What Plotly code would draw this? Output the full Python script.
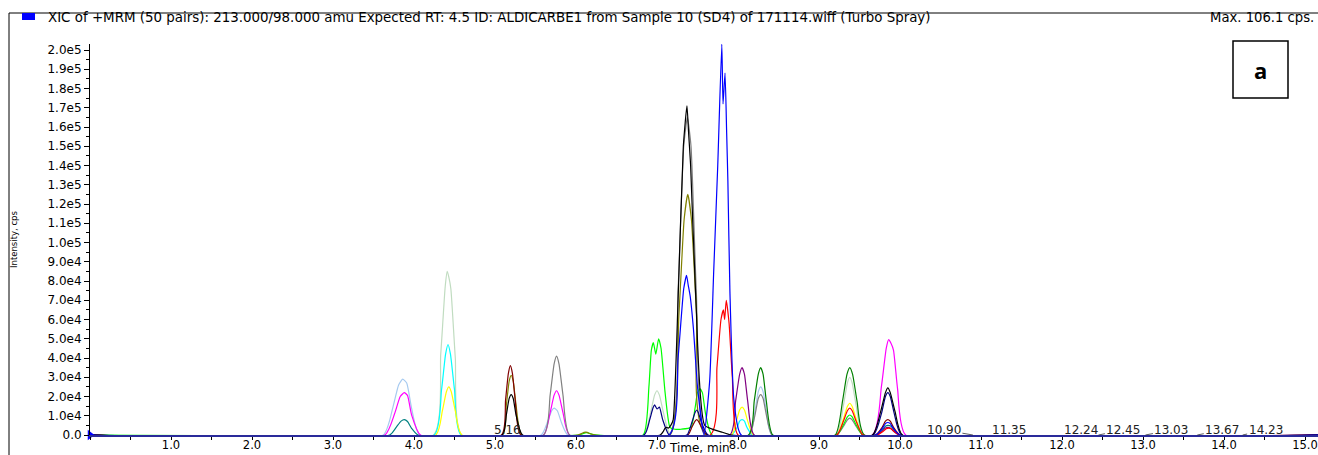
import plotly.graph_objects as go

# ---------------- data (time in min, intensity in thousands of cps) ----------------
lightblue_t = [0, 3.62, 3.74, 3.81, 3.86, 3.91, 3.97, 4.07, 5.57, 5.65, 5.70, 5.73, 5.77, 5.82, 5.90, 8.14, 8.21, 8.25, 8.28, 8.31, 8.35, 8.42, 15.2]
lightblue_y = [0, 0, 14.5, 26, 29, 27, 14, 0, 0, 7, 12.6, 14, 12.6, 6.5, 0, 0, 12.5, 22.5, 25, 22.5, 12.5, 0, 0]

magenta_t = [0, 3.64, 3.76, 3.83, 3.88, 3.92, 3.97, 4.08, 5.60, 5.68, 5.73, 5.76, 5.79, 5.84, 5.92, 9.66, 9.77, 9.83, 9.86, 9.89, 9.92, 9.97, 10.07, 15.2]
magenta_y = [0, 0, 11, 20, 22, 20.5, 10.5, 0, 0, 11.5, 20.7, 23, 20.7, 11.5, 0, 0, 25, 45, 49.5, 47.5, 44, 24, 0, 0]

teal_t = [0, 3.70, 3.78, 3.84, 3.88, 3.92, 3.97, 4.05, 9.70, 9.78, 9.82, 9.85, 9.89, 9.93, 10.0, 15.2]
teal_y = [0, 0, 4, 7.2, 8, 7, 3.5, 0, 0, 2.5, 4.5, 5, 4.5, 2.5, 0, 0]

palegreen_t = [0, 4.24, 4.33, 4.385, 4.41, 4.43, 4.455, 4.51, 4.59, 6.83, 6.92, 6.97, 7.0, 7.03, 7.08, 7.17, 9.21, 9.30, 9.35, 9.38, 9.41, 9.46, 9.55, 15.2]
palegreen_y = [0, 0, 42, 77, 85, 82, 76, 40, 0, 0, 11.5, 20.7, 23, 20.7, 11.5, 0, 0, 15, 27, 30, 27, 15, 0, 0]

cyan_t = [0, 4.25, 4.34, 4.39, 4.42, 4.45, 4.50, 4.58, 7.92, 7.99, 8.02, 8.05, 8.08, 8.11, 8.18, 15.2]
cyan_y = [0, 0, 23.5, 42, 47, 42, 23.5, 0, 0, 4, 7.2, 8, 7.2, 4, 0, 0]

yellow_t = [0, 4.27, 4.35, 4.40, 4.43, 4.46, 4.51, 4.59, 7.92, 7.98, 8.02, 8.05, 8.08, 8.12, 8.19, 9.22, 9.30, 9.35, 9.38, 9.41, 9.46, 9.54, 15.2]
yellow_y = [0, 0, 12.5, 22.5, 25, 22.5, 12.5, 0, 0, 7.2, 13, 14.5, 13, 7.2, 0, 0, 8.2, 14.8, 16.5, 14.8, 8.2, 0, 0]

maroon_t = [0, 5.08, 5.13, 5.165, 5.19, 5.215, 5.25, 5.32, 7.38, 7.43, 7.47, 7.49, 7.51, 7.55, 7.62, 9.70, 9.78, 9.82, 9.85, 9.88, 9.92, 10.0, 15.2]
maroon_y = [0, 0, 18, 32, 36, 32, 18, 0, 0, 4, 7.2, 8, 7.2, 4, 0, 0, 4, 7.2, 8, 7.2, 4, 0, 0]

olive_t = [0, 5.09, 5.14, 5.175, 5.20, 5.225, 5.26, 5.33, 6.02, 6.07, 6.10, 6.12, 6.14, 6.17, 6.24, 7.16, 7.27, 7.335, 7.38, 7.425, 7.49, 7.60, 15.2]
olive_y = [0, 0, 15.5, 28, 31, 28, 15.5, 0, 0, 0.75, 1.35, 1.5, 1.35, 0.75, 0, 0, 62, 112, 125, 112, 62, 0, 0]

black_t = [0, 5.09, 5.14, 5.175, 5.20, 5.225, 5.26, 5.34, 7.04, 7.08, 7.10, 7.12, 7.14, 7.17, 7.20, 7.26, 7.325, 7.37, 7.39, 7.415, 7.48, 7.59, 7.80, 7.92, 9.66, 9.76, 9.82, 9.85, 9.88, 9.94, 10.03, 15.2]
black_y = [0, 0, 10.5, 19, 21, 19, 10.5, 0, 0, 2, 3.6, 4, 3.6, 5, 8, 70, 150, 171, 157, 140, 70, 5, 1.5, 0, 0, 12, 22, 24.5, 22, 12, 0, 0]

gray_t = [0, 5.60, 5.68, 5.73, 5.76, 5.79, 5.84, 5.92, 7.15, 7.26, 7.33, 7.375, 7.42, 7.485, 7.60, 8.14, 8.21, 8.25, 8.28, 8.31, 8.35, 8.42, 9.22, 9.30, 9.35, 9.38, 9.41, 9.46, 9.54, 15.2]
gray_y = [0, 0, 20.5, 37, 41, 37, 20.5, 0, 0, 75, 150, 165, 150, 75, 0, 0, 10.5, 19, 21, 19, 10.5, 0, 0, 4.4, 7.9, 8.8, 7.9, 4.4, 0, 0]

green_t = [0, 6.03, 6.08, 6.11, 6.13, 6.15, 6.18, 6.26, 6.83, 6.90, 6.93, 6.955, 6.985, 7.02, 7.05, 7.10, 7.16, 7.22, 7.30, 7.42, 7.47, 7.50, 7.53, 7.56, 7.60, 7.68, 9.22, 9.30, 9.35, 9.38, 9.41, 9.46, 9.54, 15.2]
green_y = [0, 0, 0.6, 1.1, 1.2, 1.1, 0.6, 0, 0, 25, 44, 48, 42, 50, 45, 22, 4, 3, 3, 4, 14, 22, 24, 22, 11, 0, 0, 5.2, 9.4, 10.4, 9.4, 5.2, 0, 0]

navy_t = [0, 6.84, 6.91, 6.95, 6.97, 7.00, 7.03, 7.07, 7.15, 7.37, 7.43, 7.47, 7.49, 7.51, 7.55, 7.63, 9.67, 9.77, 9.82, 9.85, 9.88, 9.93, 10.02, 15.2]
navy_y = [0, 0, 8, 14, 15.6, 13.5, 14.5, 8, 0, 0, 6.5, 11.7, 13, 11.7, 6.5, 0, 0, 11, 20, 22, 20, 11, 0, 0]

red_t = [0, 7.66, 7.74, 7.79, 7.82, 7.835, 7.855, 7.89, 7.93, 8.00, 9.22, 9.30, 9.35, 9.38, 9.41, 9.46, 9.54, 9.72, 9.79, 9.83, 9.86, 9.89, 9.93, 9.99, 15.2]
red_y = [0, 0, 35, 60, 65, 60, 70, 58, 30, 0, 0, 7, 12.6, 14, 12.6, 7, 0, 0, 1.8, 3.2, 3.6, 3.2, 1.8, 0, 0]

purple_t = [0, 7.90, 7.97, 8.02, 8.05, 8.08, 8.12, 8.20, 9.71, 9.78, 9.82, 9.85, 9.88, 9.92, 9.99, 15.2]
purple_y = [0, 0, 17.5, 31.5, 35, 31.5, 17.5, 0, 0, 2, 3.6, 4, 3.6, 2, 0, 0]

darkgreen_t = [0, 8.13, 8.20, 8.25, 8.28, 8.31, 8.35, 8.43, 9.20, 9.29, 9.345, 9.38, 9.415, 9.47, 9.56, 15.2]
darkgreen_y = [0, 0, 17.5, 31.5, 35, 31.5, 17.5, 0, 0, 17.5, 31.5, 35, 31.5, 17.5, 0, 0]

blue_t = [0, 7.15, 7.26, 7.33, 7.365, 7.385, 7.41, 7.45, 7.50, 7.58, 7.65, 7.70, 7.75, 7.80, 7.815, 7.84, 7.86, 7.875, 7.90, 7.95, 8.04, 9.70, 9.78, 9.82, 9.85, 9.88, 9.92, 10.0, 15.2]
blue_y = [0, 0, 40, 76, 83, 78, 72, 55, 25, 0, 28, 85, 140, 203, 172, 188, 157, 132, 75, 18, 0, 0, 3.3, 5.9, 6.5, 5.9, 3.3, 0, 0]

series = [
    ("lightblue", lightblue_t, lightblue_y, "#a6caf0"),
    ("palegreen", palegreen_t, palegreen_y, "#c0dcc0"),
    ("cyan", cyan_t, cyan_y, "#00ffff"),
    ("yellow", yellow_t, yellow_y, "#ffff00"),
    ("teal", teal_t, teal_y, "#008080"),
    ("magenta", magenta_t, magenta_y, "#ff00ff"),
    ("gray", gray_t, gray_y, "#808080"),
    ("green", green_t, green_y, "#00ff00"),
    ("darkgreen", darkgreen_t, darkgreen_y, "#008000"),
    ("purple", purple_t, purple_y, "#800080"),
    ("red", red_t, red_y, "#ff0000"),
    ("olive", olive_t, olive_y, "#808000"),
    ("maroon", maroon_t, maroon_y, "#800000"),
    ("navy", navy_t, navy_y, "#000080"),
    ("black", black_t, black_y, "#000000"),
    ("blue", blue_t, blue_y, "#0000ff"),
]

x_tickvals = [1, 2, 3, 4, 5, 6, 7, 8, 9, 10, 11, 12, 13, 14, 15]
x_ticktext = ["1.0", "2.0", "3.0", "4.0", "5.0", "6.0", "7.0", "8.0", "9.0", "10.0", "11.0", "12.0", "13.0", "14.0", "15.0"]
y_tickvals = [0, 10, 20, 30, 40, 50, 60, 70, 80, 90, 100, 110, 120, 130, 140, 150, 160, 170, 180, 190, 200]
y_ticktext = ["0.0", "1.0e4", "2.0e4", "3.0e4", "4.0e4", "5.0e4", "6.0e4", "7.0e4", "8.0e4", "9.0e4",
              "1.0e5", "1.1e5", "1.2e5", "1.3e5", "1.4e5", "1.5e5", "1.6e5", "1.7e5", "1.8e5", "1.9e5", "2.0e5"]

label_rt = [5.16, 10.90, 11.35, 12.24, 12.45, 13.03, 13.67, 14.23]
label_text = ["5.16", "10.90", "11.35", "12.24", "12.45", "13.03", "13.67", "14.23"]
label_shift = [0, -29, 0, 0, 25, 26, 25, 23]

title_text = "XIC of +MRM (50 pairs): 213.000/98.000 amu Expected RT: 4.5 ID: ALDICARBE1 from Sample 10 (SD4) of 171114.wiff (Turbo Spray)"
max_text = "Max. 106.1 cps."

# ---------------- layout geometry (pixels) ----------------
W, H = 1318, 455
L, R, T, B = 90, 0, 44, 20
PW, PH = W - L - R, H - T - B
FONT = "DejaVu Sans"


def px(xp):
    return (xp - L) / PW


def py(yp):
    return (H - B - yp) / PH


fig = go.Figure()
for name, t, y, c in series:
    fig.add_trace(go.Scatter(x=t, y=y, mode="lines", name=name,
                             line=dict(color=c, width=1.2, shape="spline", smoothing=0.5),
                             hoverinfo="skip", showlegend=False))

fig.add_trace(go.Scatter(x=[0], y=[0], mode="markers", showlegend=False, hoverinfo="skip",
                         marker=dict(symbol="triangle-right", size=9, color="#0000ff"), cliponaxis=False))

annotations = []
for rt, txt, sh in zip(label_rt, label_text, label_shift):
    if sh == 0:
        annotations.append(dict(x=rt, y=0, xref="x", yref="y", text=txt, showarrow=False,
                                yanchor="middle", yshift=5, font=dict(family=FONT, size=12, color="#222")))
    else:
        annotations.append(dict(x=rt, y=0, xref="x", yref="y", text=txt, showarrow=True,
                                arrowhead=0, arrowwidth=0.8, arrowcolor="#333", ax=sh, ay=-5,
                                font=dict(family=FONT, size=12, color="#222")))

annotations += [
    dict(x=px(46), y=py(17), xref="paper", yref="paper", text=title_text, showarrow=False,
         xanchor="left", yanchor="middle", font=dict(family=FONT, size=13.4, color="black")),
    dict(x=px(1316), y=py(17), xref="paper", yref="paper", text=max_text, showarrow=False,
         xanchor="right", yanchor="middle", font=dict(family=FONT, size=13.2, color="black")),
    dict(x=px(1260.5), y=py(70), xref="paper", yref="paper", text="<b>a</b>", showarrow=False,
         xanchor="center", yanchor="middle", font=dict(family="Open Sans", size=22, color="black")),
    dict(x=px(699), y=py(448), xref="paper", yref="paper", text="Time, min", showarrow=False,
         xanchor="center", yanchor="middle", font=dict(family=FONT, size=12, color="black")),
    dict(x=px(14), y=py(240), xref="paper", yref="paper", text="Intensity, cps", showarrow=False,
         textangle=-90, xanchor="center", yanchor="middle", font=dict(family=FONT, size=8.5, color="black")),
]

shapes = [
    dict(type="line", xref="paper", yref="paper", x0=px(9), x1=px(1318), y0=py(13), y1=py(13),
         line=dict(color="black", width=1)),
    dict(type="line", xref="paper", yref="paper", x0=px(9), x1=px(9), y0=py(13), y1=py(455),
         line=dict(color="black", width=1)),
    dict(type="rect", xref="paper", yref="paper", x0=px(22), x1=px(35), y0=py(13), y1=py(20),
         fillcolor="#0000ff", line=dict(width=0)),
    dict(type="rect", xref="paper", yref="paper", x0=px(1233), x1=px(1288), y0=py(41), y1=py(98),
         line=dict(color="black", width=1.5)),
]

fig.update_layout(
    width=W, height=H, autosize=False,
    margin=dict(l=L, r=R, t=T, b=B),
    paper_bgcolor="white", plot_bgcolor="white",
    annotations=annotations, shapes=shapes,
    font=dict(family=FONT, size=12, color="black"),
)
fig.update_xaxes(range=[0, (W - L) / 81.0], showgrid=False, zeroline=False, showline=True,
                 linecolor="#2a2a9a", linewidth=1.5, ticks="outside", ticklen=3, tickcolor="black",
                 tickvals=x_tickvals, ticktext=x_ticktext, tickfont=dict(family=FONT, size=11.5),
                 ticklabelstandoff=-5, ticklabeloverflow="allow",
                 minor=dict(dtick=0.5, tick0=0, ticks="outside", ticklen=3, tickcolor="black"))
fig.update_yaxes(range=[0, (H - B - T) / 1.925], showgrid=False, zeroline=False, showline=True,
                 linecolor="black", linewidth=1, ticks="outside", ticklen=5, tickcolor="black",
                 tickvals=y_tickvals, ticktext=y_ticktext, tickfont=dict(family=FONT, size=12),
                 minor=dict(dtick=5, tick0=0, ticks="outside", ticklen=3, tickcolor="black"))

fig.write_html("out.html")
